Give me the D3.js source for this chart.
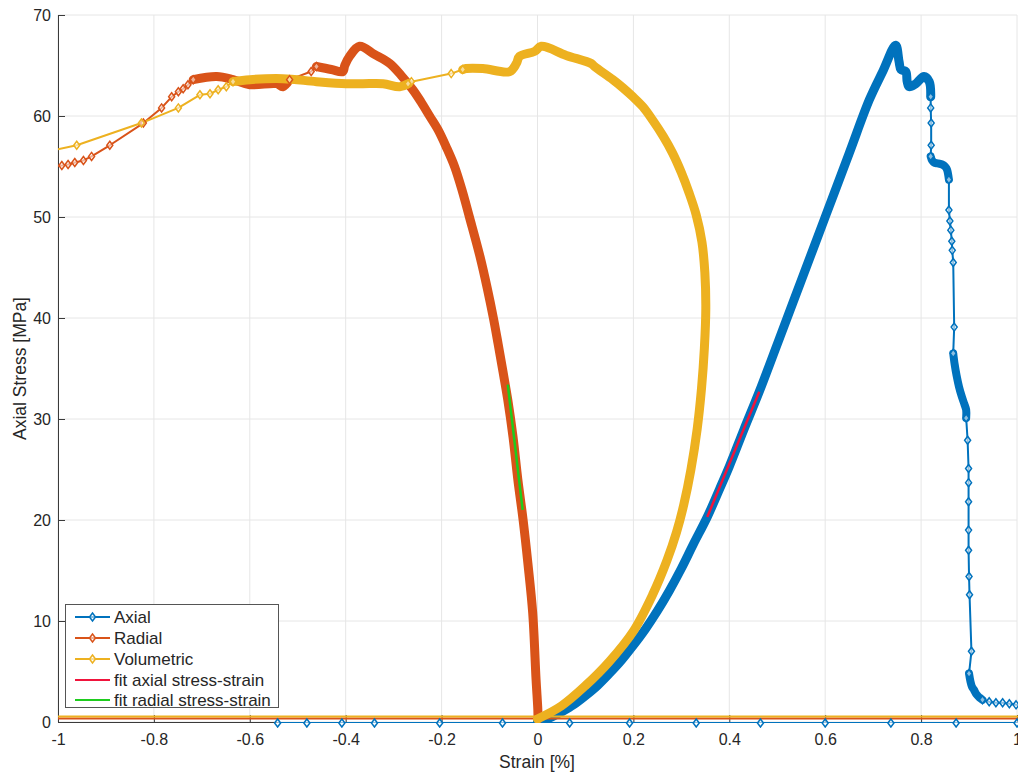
<!DOCTYPE html>
<html><head><meta charset="utf-8">
<script src="https://cdn.jsdelivr.net/npm/d3@7"></script>
<style>
html,body{margin:0;padding:0;background:#fff;}
text{font-family:"Liberation Sans",Arial,Helvetica,sans-serif;fill:#262626;}
</style></head>
<body>
<svg id="chart" width="1018" height="773"></svg>
<script>
// ---------- data ----------
const xTicks = [-1,-0.8,-0.6,-0.4,-0.2,0,0.2,0.4,0.6,0.8,1];
const xTickLabels = ["-1","-0.8","-0.6","-0.4","-0.2","0","0.2","0.4","0.6","0.8","1"];
const yTicks = [0,10,20,30,40,50,60,70];
const yTickLabels = ["0","10","20","30","40","50","60","70"];

// Axial: densely sampled loading part
const axialLoad = [[0,0],[0.01,0.1],[0.03,0.5],[0.05,1.0],[0.075,1.7],[0.1,2.6],[0.125,3.6],[0.15,4.8],[0.175,6.1],[0.2,7.6],[0.225,9.2],[0.25,11.0],[0.275,13.0],[0.3,15.2],[0.325,17.6],[0.354,20.3],[0.38,23.1],[0.4,25.3],[0.43,28.9],[0.4625,32.7],[0.5,37.4],[0.55,43.7],[0.6,50],[0.65,56.3],[0.692,61.6],[0.72,64.4],[0.747,67.0],[0.754,65.4],[0.758,64.6],[0.768,64.4],[0.771,63.4],[0.775,62.9],[0.789,63.2],[0.806,63.9],[0.817,63.4],[0.820,61.9]];
// Axial: post-peak tail, alternating sparse and dense stretches
const axialTail1 = [[0.820,61.9],[0.820,60.8],[0.821,59.3],[0.821,57.1],[0.820,56.0]];
const axialCluster1 = [[0.820,56.0],[0.823,55.6],[0.827,55.4],[0.835,55.3],[0.844,55.2],[0.850,55.0],[0.854,54.7],[0.858,53.7]];
const axialTail2 = [[0.858,53.7],[0.858,50.7],[0.860,49.6],[0.862,48.7],[0.864,47.6],[0.865,46.7],[0.867,45.5],[0.869,39.1],[0.867,36.5]];
const axialCluster2 = [[0.867,36.5],[0.870,35.4],[0.874,34.3],[0.879,33.2],[0.885,32.2],[0.890,31.5],[0.894,30.9],[0.894,30.1]];
const axialTail3 = [[0.894,30.1],[0.897,27.9],[0.899,25.1],[0.899,23.7],[0.899,21.8],[0.899,19.0],[0.899,17.0],[0.900,14.4],[0.901,12.6],[0.905,7.0],[0.900,4.8]];
const axialCluster3 = [[0.900,4.8],[0.903,4.0],[0.906,3.5],[0.910,3.2],[0.916,2.7],[0.922,2.4],[0.928,2.2]];
const axialTail4 = [[0.928,2.2],[0.942,2.0],[0.956,1.9],[0.970,1.9],[0.984,1.8],[0.998,1.7],[1.05,1.6]];
// Axial: return line close to zero
const axialReturn = [[1.05,1.6],[1.1,-0.1],[1.0,-0.1],[0.873,-0.1],[0.737,-0.1],[0.6,-0.1],[0.465,-0.1],[0.331,-0.1],[0.192,-0.1],[0.067,-0.1],[-0.073,-0.1],[-0.204,-0.1],[-0.340,-0.1],[-0.408,-0.1],[-0.481,-0.1],[-0.542,-0.1]];

// Radial
const radialLoad = [[0.001,0.3],[0.0007,1.2],[-0.003,4.2],[-0.010,10.8],[-0.020,15.7],[-0.030,20.0],[-0.041,24.0],[-0.051,28.2],[-0.062,31.9],[-0.072,34.7],[-0.082,37.4],[-0.092,40.0],[-0.105,43.0],[-0.12,46.1],[-0.142,50.0],[-0.157,52.6],[-0.173,55.0],[-0.19,56.9],[-0.207,58.6],[-0.225,60.0],[-0.243,61.4],[-0.26,62.6],[-0.284,64.0],[-0.308,65.2],[-0.34,66.1],[-0.371,66.9],[-0.392,65.9],[-0.402,65.0],[-0.406,64.4],[-0.43,64.6],[-0.461,64.9]];
const radialMid = [[-0.461,64.9],[-0.472,64.4],[-0.517,63.6]];
const radialPlateau = [[-0.517,63.6],[-0.531,62.9],[-0.544,63.2],[-0.6,63.1],[-0.635,63.6],[-0.669,63.9],[-0.718,63.6]];
const radialTail = [[-0.718,63.6],[-0.729,63.1],[-0.739,62.7],[-0.749,62.4],[-0.763,61.9],[-0.784,60.8],[-0.822,59.3],[-0.892,57.1],[-0.930,56.0],[-0.947,55.6],[-0.965,55.4],[-0.979,55.2],[-0.992,55.1],[-1.05,55.0]];
const radialReturn = [[-1.05,55.0],[-1.1,0.35],[1.1,0.35]];

// Volumetric
const volLoad = [[0.0,0.3],[0.05,1.6],[0.1,3.6],[0.15,6.0],[0.2,9.0],[0.24,12.6],[0.27,16],[0.29,18.8],[0.305,21.5],[0.32,25],[0.333,29],[0.342,33],[0.348,37],[0.351,41],[0.349,44.5],[0.343,47.5],[0.331,50.2],[0.316,52.4],[0.30,54.4],[0.282,56.3],[0.262,58.0],[0.24,59.6],[0.22,60.9],[0.199,61.9],[0.178,62.8],[0.157,63.6],[0.119,64.9],[0.112,65.2],[0.06,66.0],[0.008,66.9],[-0.006,66.4],[-0.0375,65.9],[-0.044,65.2],[-0.058,64.4],[-0.114,64.7],[-0.149,64.7],[-0.156,64.6]];
const volMid = [[-0.156,64.6],[-0.180,64.2],[-0.263,63.4],[-0.27,63.2]];
const volPlateau = [[-0.27,63.2],[-0.2875,62.9],[-0.322,63.2],[-0.364,63.2],[-0.399,63.2],[-0.461,63.4],[-0.531,63.7],[-0.6,63.6],[-0.635,63.4]];
const volTail = [[-0.635,63.4],[-0.649,62.9],[-0.666,62.6],[-0.683,62.2],[-0.704,62.1],[-0.749,60.8],[-0.826,59.3],[-0.961,57.1],[-1.05,56.2]];
const volReturn = [[-1.05,56.2],[-1.1,0.55],[1.1,0.55]];

// Linear fits
const fitAxial = [[0.354,20.3],[0.4625,32.7]];
const fitRadial = [[-0.062,33.4],[-0.031,21.0]];

const legendLabels = ["Axial","Radial","Volumetric","fit axial stress-strain","fit radial stress-strain"];

// ---------- layout ----------
const colors = {axial:"#0072BD", radial:"#D95319", vol:"#EDB120", fitA:"#F0143C", fitR:"#1ECC1E"};
const svg = d3.select("#chart");
const L=58, R=1017, T=15, B=722;
const x = d3.scaleLinear().domain([-1,1]).range([L,R]);
const y = d3.scaleLinear().domain([0,70]).range([B,T]);

svg.append("defs").append("clipPath").attr("id","clip")
  .append("rect").attr("x",L-6).attr("y",T-6).attr("width",R-L+12).attr("height",B-T+12);
svg.select("defs").append("clipPath").attr("id","clipBox")
  .append("rect").attr("x",L).attr("y",T).attr("width",R-L+1).attr("height",B-T+1);

// grid
const grid = svg.append("g");
grid.selectAll(".gx").data(xTicks).enter().append("line")
  .attr("x1",d=>x(d)).attr("x2",d=>x(d)).attr("y1",T).attr("y2",B)
  .attr("stroke","#e6e6e6").attr("stroke-width",1);
grid.selectAll(".gy").data(yTicks).enter().append("line")
  .attr("x1",L).attr("x2",R).attr("y1",d=>y(d)).attr("y2",d=>y(d))
  .attr("stroke","#e6e6e6").attr("stroke-width",1);

// axes
const xAxis = d3.axisBottom(x).tickValues(xTicks).tickFormat((d,i)=>xTickLabels[i]).tickSizeInner(-7).tickSizeOuter(0).tickPadding(12);
const yAxis = d3.axisLeft(y).tickValues(yTicks).tickFormat((d,i)=>yTickLabels[i]).tickSizeInner(-7).tickSizeOuter(0).tickPadding(7);
const gx = svg.append("g").attr("transform",`translate(0,${B})`).call(xAxis);
const gy = svg.append("g").attr("transform",`translate(${L},0)`).call(yAxis);
[gx,gy].forEach(g=>{
  g.select(".domain").attr("stroke","#3a3a3a").attr("stroke-width",1);
  g.selectAll(".tick line").attr("stroke","#3a3a3a");
  g.selectAll(".tick text").style("font-size","16px").attr("fill","#262626");
});

// series
const plotLines = svg.append("g").attr("clip-path","url(#clipBox)");
const plotMarks = svg.append("g").attr("clip-path","url(#clip)");
const line = d3.line().x(d=>x(d[0])).y(d=>y(d[1]));
const smooth = d3.line().x(d=>x(d[0])).y(d=>y(d[1])).curve(d3.curveCatmullRom.alpha(0.5));

function drawSeries(color, parts){
  const g = plotLines.append("g");
  const gm = plotMarks.append("g");
  const all = [];
  parts.forEach(p=>{ p.pts.forEach(pt=>all.push(pt)); });
  g.append("path").attr("d",line(all)).attr("fill","none").attr("stroke",color)
    .attr("stroke-width",2).attr("stroke-linejoin","round");
  parts.forEach(p=>{
    if(p.dense){
      g.append("path").attr("d",smooth(p.pts)).attr("fill","none").attr("stroke",color)
        .attr("stroke-width",p.w||9).attr("stroke-linejoin","round").attr("stroke-linecap","round");
    }
  });
  parts.forEach(p=>{
    if(!p.dense && p.marks){
      gm.selectAll(null).data(p.pts.filter(d=>d[0]>=-1.005 && d[0]<=1.005)).enter().append("path")
        .attr("transform",d=>`translate(${x(d[0])},${y(d[1])})`)
        .attr("d","M0,-4L3,0L0,4L-3,0Z")
        .attr("fill","rgba(255,255,255,0.55)").attr("stroke",color).attr("stroke-width",1.5);
    }
  });
}
drawSeries(colors.axial,[
  {pts:axialLoad,dense:true},
  {pts:axialTail1,marks:true},{pts:axialCluster1,dense:true,w:8},
  {pts:axialTail2,marks:true},{pts:axialCluster2,dense:true,w:8},
  {pts:axialTail3,marks:true},{pts:axialCluster3,dense:true,w:8},
  {pts:axialTail4,marks:true},{pts:axialReturn,marks:true}]);
drawSeries(colors.radial,[{pts:radialLoad,dense:true},{pts:radialMid,marks:true},{pts:radialPlateau,dense:true},{pts:radialTail,marks:true},{pts:radialReturn,marks:false}]);
drawSeries(colors.vol,[{pts:volLoad,dense:true},{pts:volMid,marks:true},{pts:volPlateau,dense:true},{pts:volTail,marks:true},{pts:volReturn,marks:false}]);
plotLines.append("path").attr("d",line(fitAxial)).attr("fill","none").attr("stroke",colors.fitA).attr("stroke-width",2.5);
plotLines.append("path").attr("d",line(fitRadial)).attr("fill","none").attr("stroke",colors.fitR).attr("stroke-width",2.5);

// axis labels
svg.append("text").attr("x",(L+R)/2 - 0.5).attr("y",768).attr("text-anchor","middle")
  .style("font-size","17.5px").text("Strain [%]");
svg.append("text").attr("transform",`translate(26,${(T+B)/2}) rotate(-90)`).attr("text-anchor","middle")
  .style("font-size","17.5px").text("Axial Stress [MPa]");

// legend
const lg = svg.append("g");
lg.append("rect").attr("x",65.5).attr("y",604.5).attr("width",213).attr("height",103)
  .attr("fill","#fff").attr("stroke","#555").attr("stroke-width",1);
const legColors = [colors.axial,colors.radial,colors.vol,colors.fitA,colors.fitR];
const legY = [617,638,659,680,700];
legendLabels.forEach((lab,i)=>{
  lg.append("line").attr("x1",75).attr("x2",110).attr("y1",legY[i]).attr("y2",legY[i])
    .attr("stroke",legColors[i]).attr("stroke-width",2);
  if(i<3){
    lg.append("path").attr("transform",`translate(92.5,${legY[i]})`).attr("d","M0,-4L3,0L0,4L-3,0Z")
      .attr("fill","rgba(255,255,255,0.55)").attr("stroke",legColors[i]).attr("stroke-width",1.5);
  }
  lg.append("text").attr("x",114).attr("y",legY[i]+6).style("font-size","17px").text(lab);
});
</script>
</body></html>
